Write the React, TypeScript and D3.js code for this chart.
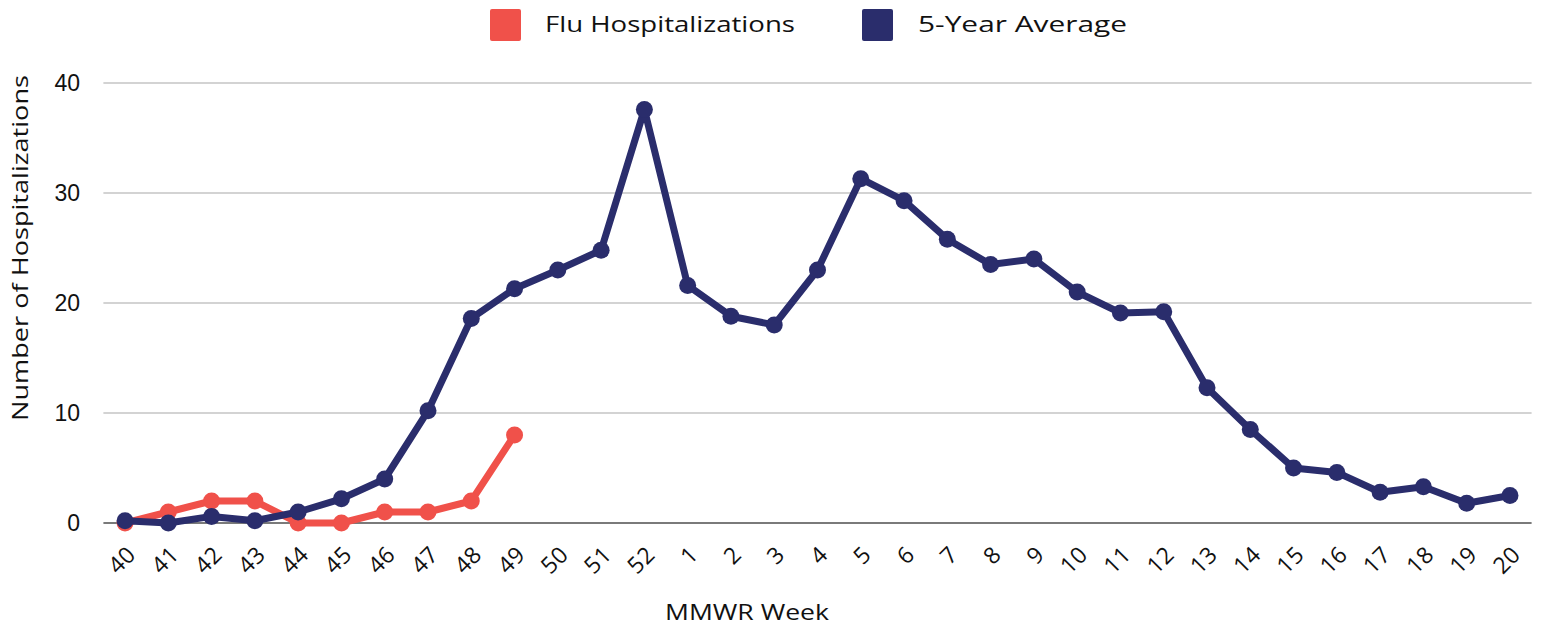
import React from 'react';
import * as d3 from 'd3';

const weeks = ['40', '41', '42', '43', '44', '45', '46', '47', '48', '49', '50', '51', '52',
  '1', '2', '3', '4', '5', '6', '7', '8', '9', '10', '11', '12', '13', '14', '15', '16', '17', '18', '19', '20'];

const fluHospitalizations = [0, 1, 2, 2, 0, 0, 1, 1, 2, 8];

const fiveYearAverage = [0.2, 0, 0.6, 0.2, 1.0, 2.2, 4.0, 10.2, 18.6, 21.3, 23.0, 24.8, 37.6,
  21.6, 18.8, 18.0, 23.0, 31.3, 29.3, 25.8, 23.5, 24.0, 21.0, 19.1, 19.2, 12.3, 8.5, 5.0, 4.6, 2.8, 3.3, 1.8, 2.5];

const yTicks = [0, 10, 20, 30, 40];

const RED = '#F0514A';
const NAVY = '#2A2D6C';
const FONT = '"Open Sans", sans-serif';
const TICK_FONT = '"Liberation Sans", Arial, sans-serif';

const width = 1543;
const height = 626;
const plotLeft = 103.4;
const plotRight = 1531.6;

const App: React.FC = () => {
  // category axis, points sit in the middle of each band
  const x = d3.scalePoint<string>().domain(weeks).range([plotLeft, plotRight]).padding(0.5);
  const y = d3.scaleLinear().domain([0, 40]).range([523, 83]);

  const line = d3.line<number>()
    .x((_, i) => x(weeks[i]) as number)
    .y(d => y(d));

  const series = [
    { name: 'Flu Hospitalizations', color: RED, values: fluHospitalizations },
    { name: '5-Year Average', color: NAVY, values: fiveYearAverage },
  ];

  return (
    <svg width={width} height={height} style={{ position: 'absolute', left: 0, top: 0, background: '#fff' }}>
      {/* grid */}
      {yTicks.map(t => (
        <g key={t}>
          <line x1={plotLeft} x2={plotRight} y1={y(t)} y2={y(t)}
            stroke={t === 0 ? '#7a7a7a' : '#c4c4c4'} strokeWidth={t === 0 ? 2 : 1.5} />
          <text x={80} y={y(t)} dy="0.36em" textAnchor="end" fontFamily={TICK_FONT} fontSize={23} fill="#111">{t}</text>
        </g>
      ))}

      {/* x tick labels */}
      {weeks.map(w => (
        <text key={w} transform={`translate(${(x(w) as number) + 12},${556}) rotate(-45)`}
          textAnchor="end" fontFamily={FONT} fontSize={23} letterSpacing={0.5} fill="#111">{w}</text>
      ))}

      {/* lines: navy drawn after red so it sits above */}
      {series.map(s => (
        <g key={s.name}>
          <path d={line(s.values) || ''} fill="none" stroke={s.color} strokeWidth={7} strokeLinejoin="round" />
          {s.values.map((v, i) => (
            <circle key={i} cx={x(weeks[i]) as number} cy={y(v)} r={8.5} fill={s.color} />
          ))}
        </g>
      ))}

      {/* axis titles */}
      <text transform="translate(28,248) rotate(-90)" textAnchor="middle" fontFamily={FONT} fontSize={22}
        textLength={346} lengthAdjust="spacingAndGlyphs" fill="#111">
        Number of Hospitalizations
      </text>
      <text x={747} y={620} textAnchor="middle" fontFamily={FONT} fontSize={22}
        textLength={164} lengthAdjust="spacingAndGlyphs" fill="#111">MMWR Week</text>

      {/* legend */}
      <rect x={490} y={9} width={31} height={32} rx={2} fill={RED} />
      <text x={545} y={32} fontFamily={FONT} fontSize={22} textLength={250} lengthAdjust="spacingAndGlyphs" fill="#111">
        Flu Hospitalizations
      </text>
      <rect x={862} y={9} width={31} height={32} rx={2} fill={NAVY} />
      <text x={918} y={32} fontFamily={FONT} fontSize={22} textLength={209} lengthAdjust="spacingAndGlyphs" fill="#111">
        5-Year Average
      </text>
    </svg>
  );
};

export default App;
